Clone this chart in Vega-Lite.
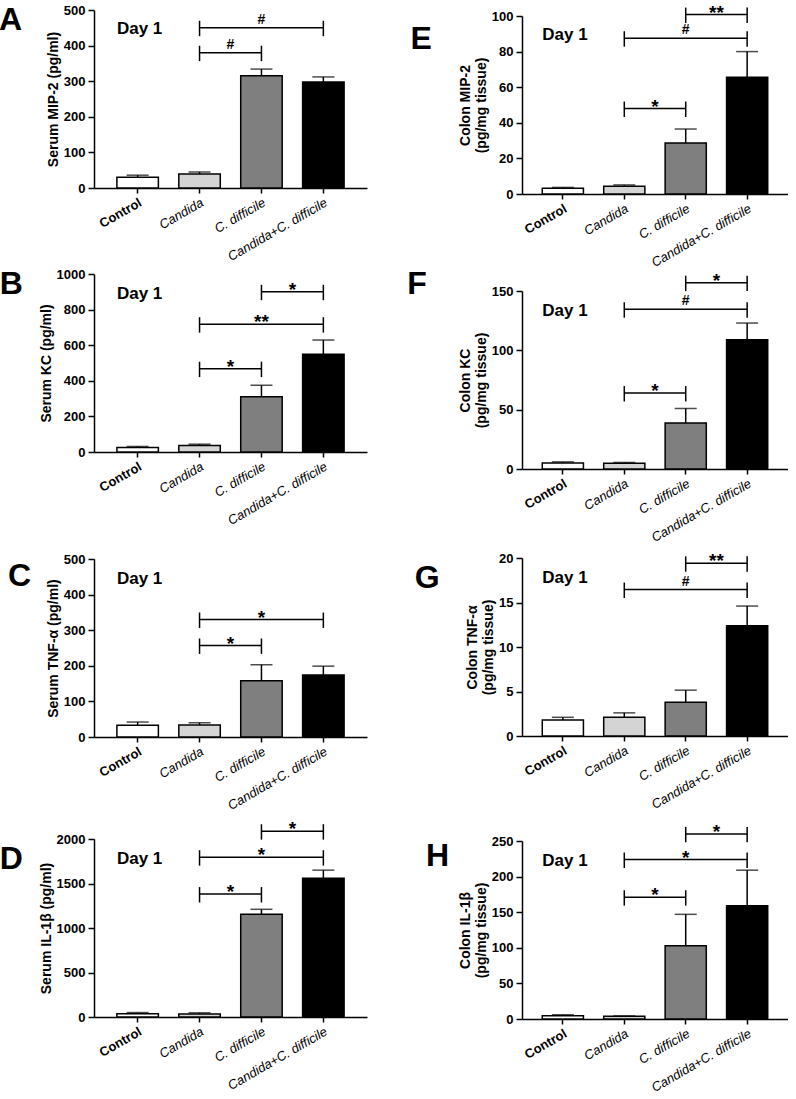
{
"$schema": "https://vega.github.io/schema/vega-lite/v6.json",
"padding": {"left": -1, "top": 3, "right": 0, "bottom": 0},
"columns": 2,
"align": "each",
"bounds": "flush",
"spacing": {"row": 80, "column": 155},
"config": {
 "font": "Liberation Sans",
 "view": {"stroke": null},
 "axis": {"grid": false, "domainColor": "#000000", "domainWidth": 1.5, "tickColor": "#000000", "tickWidth": 1.5, "labelColor": "#000000", "titleColor": "#000000", "labelFont": "Liberation Sans", "titleFont": "Liberation Sans"},
 "axisY": {"labelFontSize": 13, "labelFontWeight": "bold", "labelOverlap": false, "tickSize": 6, "labelPadding": 3, "titleFontSize": 14, "titleFontWeight": "bold", "titlePadding": 3, "titleLineHeight": 16},
 "axisX": {"labelFontSize": 13, "labelAngle": -30, "tickSize": 5, "labelPadding": 3},
 "bar": {"stroke": "#000000", "strokeWidth": 1.5},
 "rule": {"color": "#000000", "strokeWidth": 1.5},
 "tick": {"color": "#000000", "thickness": 1.5, "size": 22},
 "text": {"color": "#000000", "font": "Liberation Sans"},
 "point": {"color": "#000000", "strokeWidth": 1.5, "filled": false, "opacity": 1},
 "title": {"color": "#000000", "font": "Liberation Sans"}
},
"datasets": {
 "bars": [
  {"panel": "A", "group": "Control", "mean": 30, "upper": 36},
  {"panel": "A", "group": "Candida", "mean": 39, "upper": 45},
  {"panel": "A", "group": "C. difficile", "mean": 315, "upper": 334},
  {"panel": "A", "group": "Candida+C. difficile", "mean": 298, "upper": 312},
  {"panel": "B", "group": "Control", "mean": 25, "upper": 31},
  {"panel": "B", "group": "Candida", "mean": 36, "upper": 44},
  {"panel": "B", "group": "C. difficile", "mean": 310, "upper": 375},
  {"panel": "B", "group": "Candida+C. difficile", "mean": 549, "upper": 629},
  {"panel": "C", "group": "Control", "mean": 33, "upper": 42},
  {"panel": "C", "group": "Candida", "mean": 34, "upper": 40},
  {"panel": "C", "group": "C. difficile", "mean": 158, "upper": 203},
  {"panel": "C", "group": "Candida+C. difficile", "mean": 174, "upper": 199},
  {"panel": "D", "group": "Control", "mean": 37, "upper": 50},
  {"panel": "D", "group": "Candida", "mean": 35, "upper": 47},
  {"panel": "D", "group": "C. difficile", "mean": 1155, "upper": 1210},
  {"panel": "D", "group": "Candida+C. difficile", "mean": 1560, "upper": 1650},
  {"panel": "E", "group": "Control", "mean": 3.2, "upper": 3.7},
  {"panel": "E", "group": "Candida", "mean": 4.3, "upper": 5.1},
  {"panel": "E", "group": "C. difficile", "mean": 28.6, "upper": 36.5},
  {"panel": "E", "group": "Candida+C. difficile", "mean": 65.6, "upper": 80},
  {"panel": "F", "group": "Control", "mean": 5, "upper": 6},
  {"panel": "F", "group": "Candida", "mean": 4.8, "upper": 5.5},
  {"panel": "F", "group": "C. difficile", "mean": 38.7, "upper": 51},
  {"panel": "F", "group": "Candida+C. difficile", "mean": 109, "upper": 123},
  {"panel": "G", "group": "Control", "mean": 1.8, "upper": 2.1},
  {"panel": "G", "group": "Candida", "mean": 2.1, "upper": 2.6},
  {"panel": "G", "group": "C. difficile", "mean": 3.8, "upper": 5.15},
  {"panel": "G", "group": "Candida+C. difficile", "mean": 12.4, "upper": 14.6},
  {"panel": "H", "group": "Control", "mean": 4.7, "upper": 6},
  {"panel": "H", "group": "Candida", "mean": 3.8, "upper": 4.3},
  {"panel": "H", "group": "C. difficile", "mean": 103, "upper": 147},
  {"panel": "H", "group": "Candida+C. difficile", "mean": 159, "upper": 209}
 ],
 "sig": [
  {"panel": "A", "from": "Candida", "to": "C. difficile", "level": 380, "label": "#"},
  {"panel": "A", "from": "Candida", "to": "Candida+C. difficile", "level": 450, "label": "#"},
  {"panel": "B", "from": "C. difficile", "to": "Candida+C. difficile", "level": 900, "label": "*"},
  {"panel": "B", "from": "Candida", "to": "Candida+C. difficile", "level": 718, "label": "**"},
  {"panel": "B", "from": "Candida", "to": "C. difficile", "level": 468, "label": "*"},
  {"panel": "C", "from": "Candida", "to": "Candida+C. difficile", "level": 330, "label": "*"},
  {"panel": "C", "from": "Candida", "to": "C. difficile", "level": 257, "label": "*"},
  {"panel": "D", "from": "C. difficile", "to": "Candida+C. difficile", "level": 2087, "label": "*"},
  {"panel": "D", "from": "Candida", "to": "Candida+C. difficile", "level": 1795, "label": "*"},
  {"panel": "D", "from": "Candida", "to": "C. difficile", "level": 1381, "label": "*"},
  {"panel": "E", "from": "C. difficile", "to": "Candida+C. difficile", "level": 100.8, "label": "**"},
  {"panel": "E", "from": "Candida", "to": "Candida+C. difficile", "level": 87.5, "label": "#"},
  {"panel": "E", "from": "Candida", "to": "C. difficile", "level": 48, "label": "*"},
  {"panel": "F", "from": "C. difficile", "to": "Candida+C. difficile", "level": 157, "label": "*"},
  {"panel": "F", "from": "Candida", "to": "Candida+C. difficile", "level": 134.6, "label": "#"},
  {"panel": "F", "from": "Candida", "to": "C. difficile", "level": 64, "label": "*"},
  {"panel": "G", "from": "C. difficile", "to": "Candida+C. difficile", "level": 19.4, "label": "**"},
  {"panel": "G", "from": "Candida", "to": "Candida+C. difficile", "level": 16.45, "label": "#"},
  {"panel": "H", "from": "C. difficile", "to": "Candida+C. difficile", "level": 260, "label": "*"},
  {"panel": "H", "from": "Candida", "to": "Candida+C. difficile", "level": 224, "label": "*"},
  {"panel": "H", "from": "Candida", "to": "C. difficile", "level": 171, "label": "*"}
 ],
 "day": [{"label": "Day 1"}]
},
"concat": [
 {
  "width": 273, "height": 178,
  "title": {"text": "A", "orient": "left", "anchor": "end", "frame": "group", "angle": 0, "align": "right", "baseline": "top", "fontSize": 32, "fontWeight": "bold", "offset": 1, "dy": -5},
  "layer": [
   {"data": {"name": "bars"}, "transform": [{"filter": "datum.panel == 'A'"}], "mark": "bar",
    "encoding": {
     "x": {"field": "group", "type": "nominal", "scale": {"domain": ["Control", "Candida", "C. difficile", "Candida+C. difficile"], "paddingInner": 0.33, "paddingOuter": 0.37}, "axis": {"title": null, "labelFontWeight": {"condition": {"test": "datum.value == 'Control'", "value": "bold"}, "value": "normal"}, "labelFontStyle": {"condition": {"test": "datum.value == 'Control'", "value": "normal"}, "value": "italic"}}},
     "y": {"field": "mean", "type": "quantitative", "scale": {"domain": [0, 500], "range": [178, 0], "nice": false}, "axis": {"title": "Serum MIP-2 (pg/ml)", "format": "d", "labelOverlap": false, "tickCount": 10, "values": [0, 100, 200, 300, 400, 500]}},
     "fill": {"field": "group", "type": "nominal", "scale": {"domain": ["Control", "Candida", "C. difficile", "Candida+C. difficile"], "range": ["#ffffff", "#d4d4d4", "#7f7f7f", "#000000"]}, "legend": null}}},
   {"data": {"name": "bars"}, "transform": [{"filter": "datum.panel == 'A'"}], "mark": "rule",
    "encoding": {"x": {"field": "group", "type": "nominal"}, "y": {"field": "mean", "type": "quantitative"}, "y2": {"field": "upper"}}},
   {"data": {"name": "bars"}, "transform": [{"filter": "datum.panel == 'A'"}], "mark": "tick",
    "encoding": {"x": {"field": "group", "type": "nominal"}, "y": {"field": "upper", "type": "quantitative"}}},
   {"data": {"name": "sig"}, "transform": [{"filter": "datum.panel == 'A'"}], "mark": "rule",
    "encoding": {"x": {"field": "from", "type": "nominal"}, "x2": {"field": "to"}, "y": {"field": "level", "type": "quantitative"}}},
   {"data": {"name": "sig"}, "transform": [{"filter": "datum.panel == 'A'"}, {"fold": ["from", "to"], "as": ["end", "cat"]}], "mark": {"type": "point", "shape": "M0,-1L0,1.2", "size": 196},
    "encoding": {"x": {"field": "cat", "type": "nominal"}, "y": {"field": "level", "type": "quantitative"}}},
   {"data": {"name": "sig"}, "transform": [{"filter": "datum.panel == 'A' && datum.from == 'Candida' && datum.to == 'Candida+C. difficile'"}], "mark": {"type": "text", "fontWeight": "bold", "baseline": "alphabetic", "fontSize": {"expr": "datum.label == '#' ? 14 : 19"}, "dy": {"expr": "datum.label == '#' ? -4 : 4"}},
    "encoding": {"x": {"field": "from", "type": "nominal", "bandPosition": 1.993}, "y": {"field": "level", "type": "quantitative"}, "text": {"field": "label"}}},
   {"data": {"name": "sig"}, "transform": [{"filter": "datum.panel == 'A' && !(datum.from == 'Candida' && datum.to == 'Candida+C. difficile')"}], "mark": {"type": "text", "fontWeight": "bold", "baseline": "alphabetic", "fontSize": {"expr": "datum.label == '#' ? 14 : 19"}, "dy": {"expr": "datum.label == '#' ? -4 : 4"}},
    "encoding": {"x": {"field": "from", "type": "nominal", "bandPosition": 1.246}, "y": {"field": "level", "type": "quantitative"}, "text": {"field": "label"}}},
   {"data": {"name": "day"}, "mark": {"type": "text", "fontSize": 17, "fontWeight": "bold", "align": "left", "baseline": "middle"},
    "encoding": {"x": {"datum": "Control", "bandPosition": 0}, "y": {"datum": 447}, "text": {"field": "label"}}}
  ]
 },
 {
  "width": 266, "height": 184,
  "title": {"text": "E", "orient": "left", "anchor": "end", "frame": "group", "angle": 0, "align": "right", "baseline": "top", "fontSize": 32, "fontWeight": "bold", "offset": 5, "dy": 14},
  "layer": [
   {"data": {"name": "bars"}, "transform": [{"filter": "datum.panel == 'E'"}], "mark": "bar",
    "encoding": {
     "x": {"field": "group", "type": "nominal", "scale": {"domain": ["Control", "Candida", "C. difficile", "Candida+C. difficile"], "paddingInner": 0.33, "paddingOuter": 0.33}, "axis": {"title": null, "labelFontWeight": {"condition": {"test": "datum.value == 'Control'", "value": "bold"}, "value": "normal"}, "labelFontStyle": {"condition": {"test": "datum.value == 'Control'", "value": "normal"}, "value": "italic"}}},
     "y": {"field": "mean", "type": "quantitative", "scale": {"domain": [0, 100], "range": [184, 6], "nice": false}, "axis": {"title": ["Colon MIP-2", "(pg/mg tissue)"], "labelOverlap": false, "tickCount": 10, "values": [0, 20, 40, 60, 80, 100]}},
     "fill": {"field": "group", "type": "nominal", "scale": {"domain": ["Control", "Candida", "C. difficile", "Candida+C. difficile"], "range": ["#ffffff", "#d4d4d4", "#7f7f7f", "#000000"]}, "legend": null}}},
   {"data": {"name": "bars"}, "transform": [{"filter": "datum.panel == 'E'"}], "mark": "rule",
    "encoding": {"x": {"field": "group", "type": "nominal"}, "y": {"field": "mean", "type": "quantitative"}, "y2": {"field": "upper"}}},
   {"data": {"name": "bars"}, "transform": [{"filter": "datum.panel == 'E'"}], "mark": "tick",
    "encoding": {"x": {"field": "group", "type": "nominal"}, "y": {"field": "upper", "type": "quantitative"}}},
   {"data": {"name": "sig"}, "transform": [{"filter": "datum.panel == 'E'"}], "mark": "rule",
    "encoding": {"x": {"field": "from", "type": "nominal"}, "x2": {"field": "to"}, "y": {"field": "level", "type": "quantitative"}}},
   {"data": {"name": "sig"}, "transform": [{"filter": "datum.panel == 'E'"}, {"fold": ["from", "to"], "as": ["end", "cat"]}], "mark": {"type": "point", "shape": "M0,-1L0,1.2", "size": 196},
    "encoding": {"x": {"field": "cat", "type": "nominal"}, "y": {"field": "level", "type": "quantitative"}}},
   {"data": {"name": "sig"}, "transform": [{"filter": "datum.panel == 'E' && datum.from == 'Candida' && datum.to == 'Candida+C. difficile'"}], "mark": {"type": "text", "fontWeight": "bold", "baseline": "alphabetic", "fontSize": {"expr": "datum.label == '#' ? 14 : 19"}, "dy": {"expr": "datum.label == '#' ? -4 : 4"}},
    "encoding": {"x": {"field": "from", "type": "nominal", "bandPosition": 1.993}, "y": {"field": "level", "type": "quantitative"}, "text": {"field": "label"}}},
   {"data": {"name": "sig"}, "transform": [{"filter": "datum.panel == 'E' && !(datum.from == 'Candida' && datum.to == 'Candida+C. difficile')"}], "mark": {"type": "text", "fontWeight": "bold", "baseline": "alphabetic", "fontSize": {"expr": "datum.label == '#' ? 14 : 19"}, "dy": {"expr": "datum.label == '#' ? -4 : 4"}},
    "encoding": {"x": {"field": "from", "type": "nominal", "bandPosition": 1.246}, "y": {"field": "level", "type": "quantitative"}, "text": {"field": "label"}}},
   {"data": {"name": "day"}, "mark": {"type": "text", "fontSize": 17, "fontWeight": "bold", "align": "left", "baseline": "middle"},
    "encoding": {"x": {"datum": "Control", "bandPosition": 0}, "y": {"datum": 89.3}, "text": {"field": "label"}}}
  ]
 },
 {
  "width": 273, "height": 178,
  "title": {"text": "B", "orient": "left", "anchor": "end", "frame": "group", "angle": 0, "align": "right", "baseline": "top", "fontSize": 32, "fontWeight": "bold", "offset": -7, "dy": -5},
  "layer": [
   {"data": {"name": "bars"}, "transform": [{"filter": "datum.panel == 'B'"}], "mark": "bar",
    "encoding": {
     "x": {"field": "group", "type": "nominal", "scale": {"domain": ["Control", "Candida", "C. difficile", "Candida+C. difficile"], "paddingInner": 0.33, "paddingOuter": 0.37}, "axis": {"title": null, "labelFontWeight": {"condition": {"test": "datum.value == 'Control'", "value": "bold"}, "value": "normal"}, "labelFontStyle": {"condition": {"test": "datum.value == 'Control'", "value": "normal"}, "value": "italic"}}},
     "y": {"field": "mean", "type": "quantitative", "scale": {"domain": [0, 1000], "range": [178, 0], "nice": false}, "axis": {"title": "Serum KC (pg/ml)", "format": "d", "labelOverlap": false, "tickCount": 10, "values": [0, 200, 400, 600, 800, 1000]}},
     "fill": {"field": "group", "type": "nominal", "scale": {"domain": ["Control", "Candida", "C. difficile", "Candida+C. difficile"], "range": ["#ffffff", "#d4d4d4", "#7f7f7f", "#000000"]}, "legend": null}}},
   {"data": {"name": "bars"}, "transform": [{"filter": "datum.panel == 'B'"}], "mark": "rule",
    "encoding": {"x": {"field": "group", "type": "nominal"}, "y": {"field": "mean", "type": "quantitative"}, "y2": {"field": "upper"}}},
   {"data": {"name": "bars"}, "transform": [{"filter": "datum.panel == 'B'"}], "mark": "tick",
    "encoding": {"x": {"field": "group", "type": "nominal"}, "y": {"field": "upper", "type": "quantitative"}}},
   {"data": {"name": "sig"}, "transform": [{"filter": "datum.panel == 'B'"}], "mark": "rule",
    "encoding": {"x": {"field": "from", "type": "nominal"}, "x2": {"field": "to"}, "y": {"field": "level", "type": "quantitative"}}},
   {"data": {"name": "sig"}, "transform": [{"filter": "datum.panel == 'B'"}, {"fold": ["from", "to"], "as": ["end", "cat"]}], "mark": {"type": "point", "shape": "M0,-1L0,1.2", "size": 196},
    "encoding": {"x": {"field": "cat", "type": "nominal"}, "y": {"field": "level", "type": "quantitative"}}},
   {"data": {"name": "sig"}, "transform": [{"filter": "datum.panel == 'B' && datum.from == 'Candida' && datum.to == 'Candida+C. difficile'"}], "mark": {"type": "text", "fontWeight": "bold", "baseline": "alphabetic", "fontSize": {"expr": "datum.label == '#' ? 14 : 19"}, "dy": {"expr": "datum.label == '#' ? -4 : 4"}},
    "encoding": {"x": {"field": "from", "type": "nominal", "bandPosition": 1.993}, "y": {"field": "level", "type": "quantitative"}, "text": {"field": "label"}}},
   {"data": {"name": "sig"}, "transform": [{"filter": "datum.panel == 'B' && !(datum.from == 'Candida' && datum.to == 'Candida+C. difficile')"}], "mark": {"type": "text", "fontWeight": "bold", "baseline": "alphabetic", "fontSize": {"expr": "datum.label == '#' ? 14 : 19"}, "dy": {"expr": "datum.label == '#' ? -4 : 4"}},
    "encoding": {"x": {"field": "from", "type": "nominal", "bandPosition": 1.246}, "y": {"field": "level", "type": "quantitative"}, "text": {"field": "label"}}},
   {"data": {"name": "day"}, "mark": {"type": "text", "fontSize": 17, "fontWeight": "bold", "align": "left", "baseline": "middle"},
    "encoding": {"x": {"datum": "Control", "bandPosition": 0}, "y": {"datum": 887}, "text": {"field": "label"}}}
  ]
 },
 {
  "width": 266, "height": 195,
  "title": {"text": "F", "orient": "left", "anchor": "end", "frame": "group", "angle": 0, "align": "right", "baseline": "top", "fontSize": 32, "fontWeight": "bold", "offset": 12, "dy": -5},
  "layer": [
   {"data": {"name": "bars"}, "transform": [{"filter": "datum.panel == 'F'"}], "mark": "bar",
    "encoding": {
     "x": {"field": "group", "type": "nominal", "scale": {"domain": ["Control", "Candida", "C. difficile", "Candida+C. difficile"], "paddingInner": 0.33, "paddingOuter": 0.33}, "axis": {"title": null, "labelFontWeight": {"condition": {"test": "datum.value == 'Control'", "value": "bold"}, "value": "normal"}, "labelFontStyle": {"condition": {"test": "datum.value == 'Control'", "value": "normal"}, "value": "italic"}}},
     "y": {"field": "mean", "type": "quantitative", "scale": {"domain": [0, 150], "range": [195, 17], "nice": false}, "axis": {"title": ["Colon KC", "(pg/mg tissue)"], "labelOverlap": false, "tickCount": 10, "values": [0, 50, 100, 150]}},
     "fill": {"field": "group", "type": "nominal", "scale": {"domain": ["Control", "Candida", "C. difficile", "Candida+C. difficile"], "range": ["#ffffff", "#d4d4d4", "#7f7f7f", "#000000"]}, "legend": null}}},
   {"data": {"name": "bars"}, "transform": [{"filter": "datum.panel == 'F'"}], "mark": "rule",
    "encoding": {"x": {"field": "group", "type": "nominal"}, "y": {"field": "mean", "type": "quantitative"}, "y2": {"field": "upper"}}},
   {"data": {"name": "bars"}, "transform": [{"filter": "datum.panel == 'F'"}], "mark": "tick",
    "encoding": {"x": {"field": "group", "type": "nominal"}, "y": {"field": "upper", "type": "quantitative"}}},
   {"data": {"name": "sig"}, "transform": [{"filter": "datum.panel == 'F'"}], "mark": "rule",
    "encoding": {"x": {"field": "from", "type": "nominal"}, "x2": {"field": "to"}, "y": {"field": "level", "type": "quantitative"}}},
   {"data": {"name": "sig"}, "transform": [{"filter": "datum.panel == 'F'"}, {"fold": ["from", "to"], "as": ["end", "cat"]}], "mark": {"type": "point", "shape": "M0,-1L0,1.2", "size": 196},
    "encoding": {"x": {"field": "cat", "type": "nominal"}, "y": {"field": "level", "type": "quantitative"}}},
   {"data": {"name": "sig"}, "transform": [{"filter": "datum.panel == 'F' && datum.from == 'Candida' && datum.to == 'Candida+C. difficile'"}], "mark": {"type": "text", "fontWeight": "bold", "baseline": "alphabetic", "fontSize": {"expr": "datum.label == '#' ? 14 : 19"}, "dy": {"expr": "datum.label == '#' ? -4 : 4"}},
    "encoding": {"x": {"field": "from", "type": "nominal", "bandPosition": 1.993}, "y": {"field": "level", "type": "quantitative"}, "text": {"field": "label"}}},
   {"data": {"name": "sig"}, "transform": [{"filter": "datum.panel == 'F' && !(datum.from == 'Candida' && datum.to == 'Candida+C. difficile')"}], "mark": {"type": "text", "fontWeight": "bold", "baseline": "alphabetic", "fontSize": {"expr": "datum.label == '#' ? 14 : 19"}, "dy": {"expr": "datum.label == '#' ? -4 : 4"}},
    "encoding": {"x": {"field": "from", "type": "nominal", "bandPosition": 1.246}, "y": {"field": "level", "type": "quantitative"}, "text": {"field": "label"}}},
   {"data": {"name": "day"}, "mark": {"type": "text", "fontSize": 17, "fontWeight": "bold", "align": "left", "baseline": "middle"},
    "encoding": {"x": {"datum": "Control", "bandPosition": 0}, "y": {"datum": 133}, "text": {"field": "label"}}}
  ]
 },
 {
  "width": 273, "height": 188,
  "title": {"text": "C", "orient": "left", "anchor": "end", "frame": "group", "angle": 0, "align": "right", "baseline": "top", "fontSize": 32, "fontWeight": "bold", "offset": -8, "dy": 12},
  "layer": [
   {"data": {"name": "bars"}, "transform": [{"filter": "datum.panel == 'C'"}], "mark": "bar",
    "encoding": {
     "x": {"field": "group", "type": "nominal", "scale": {"domain": ["Control", "Candida", "C. difficile", "Candida+C. difficile"], "paddingInner": 0.33, "paddingOuter": 0.37}, "axis": {"title": null, "labelFontWeight": {"condition": {"test": "datum.value == 'Control'", "value": "bold"}, "value": "normal"}, "labelFontStyle": {"condition": {"test": "datum.value == 'Control'", "value": "normal"}, "value": "italic"}}},
     "y": {"field": "mean", "type": "quantitative", "scale": {"domain": [0, 500], "range": [188, 10], "nice": false}, "axis": {"title": "Serum TNF-α (pg/ml)", "format": "d", "labelOverlap": false, "tickCount": 10, "values": [0, 100, 200, 300, 400, 500]}},
     "fill": {"field": "group", "type": "nominal", "scale": {"domain": ["Control", "Candida", "C. difficile", "Candida+C. difficile"], "range": ["#ffffff", "#d4d4d4", "#7f7f7f", "#000000"]}, "legend": null}}},
   {"data": {"name": "bars"}, "transform": [{"filter": "datum.panel == 'C'"}], "mark": "rule",
    "encoding": {"x": {"field": "group", "type": "nominal"}, "y": {"field": "mean", "type": "quantitative"}, "y2": {"field": "upper"}}},
   {"data": {"name": "bars"}, "transform": [{"filter": "datum.panel == 'C'"}], "mark": "tick",
    "encoding": {"x": {"field": "group", "type": "nominal"}, "y": {"field": "upper", "type": "quantitative"}}},
   {"data": {"name": "sig"}, "transform": [{"filter": "datum.panel == 'C'"}], "mark": "rule",
    "encoding": {"x": {"field": "from", "type": "nominal"}, "x2": {"field": "to"}, "y": {"field": "level", "type": "quantitative"}}},
   {"data": {"name": "sig"}, "transform": [{"filter": "datum.panel == 'C'"}, {"fold": ["from", "to"], "as": ["end", "cat"]}], "mark": {"type": "point", "shape": "M0,-1L0,1.2", "size": 196},
    "encoding": {"x": {"field": "cat", "type": "nominal"}, "y": {"field": "level", "type": "quantitative"}}},
   {"data": {"name": "sig"}, "transform": [{"filter": "datum.panel == 'C' && datum.from == 'Candida' && datum.to == 'Candida+C. difficile'"}], "mark": {"type": "text", "fontWeight": "bold", "baseline": "alphabetic", "fontSize": {"expr": "datum.label == '#' ? 14 : 19"}, "dy": {"expr": "datum.label == '#' ? -4 : 4"}},
    "encoding": {"x": {"field": "from", "type": "nominal", "bandPosition": 1.993}, "y": {"field": "level", "type": "quantitative"}, "text": {"field": "label"}}},
   {"data": {"name": "sig"}, "transform": [{"filter": "datum.panel == 'C' && !(datum.from == 'Candida' && datum.to == 'Candida+C. difficile')"}], "mark": {"type": "text", "fontWeight": "bold", "baseline": "alphabetic", "fontSize": {"expr": "datum.label == '#' ? 14 : 19"}, "dy": {"expr": "datum.label == '#' ? -4 : 4"}},
    "encoding": {"x": {"field": "from", "type": "nominal", "bandPosition": 1.246}, "y": {"field": "level", "type": "quantitative"}, "text": {"field": "label"}}},
   {"data": {"name": "day"}, "mark": {"type": "text", "fontSize": 17, "fontWeight": "bold", "align": "left", "baseline": "middle"},
    "encoding": {"x": {"datum": "Control", "bandPosition": 0}, "y": {"datum": 445}, "text": {"field": "label"}}}
  ]
 },
 {
  "width": 266, "height": 187,
  "title": {"text": "G", "orient": "left", "anchor": "end", "frame": "group", "angle": 0, "align": "right", "baseline": "top", "fontSize": 32, "fontWeight": "bold", "offset": 1, "dy": 14},
  "layer": [
   {"data": {"name": "bars"}, "transform": [{"filter": "datum.panel == 'G'"}], "mark": "bar",
    "encoding": {
     "x": {"field": "group", "type": "nominal", "scale": {"domain": ["Control", "Candida", "C. difficile", "Candida+C. difficile"], "paddingInner": 0.33, "paddingOuter": 0.33}, "axis": {"title": null, "labelFontWeight": {"condition": {"test": "datum.value == 'Control'", "value": "bold"}, "value": "normal"}, "labelFontStyle": {"condition": {"test": "datum.value == 'Control'", "value": "normal"}, "value": "italic"}}},
     "y": {"field": "mean", "type": "quantitative", "scale": {"domain": [0, 20], "range": [187, 9], "nice": false}, "axis": {"title": ["Colon TNF-α", "(pg/mg tissue)"], "labelOverlap": false, "tickCount": 10, "values": [0, 5, 10, 15, 20]}},
     "fill": {"field": "group", "type": "nominal", "scale": {"domain": ["Control", "Candida", "C. difficile", "Candida+C. difficile"], "range": ["#ffffff", "#d4d4d4", "#7f7f7f", "#000000"]}, "legend": null}}},
   {"data": {"name": "bars"}, "transform": [{"filter": "datum.panel == 'G'"}], "mark": "rule",
    "encoding": {"x": {"field": "group", "type": "nominal"}, "y": {"field": "mean", "type": "quantitative"}, "y2": {"field": "upper"}}},
   {"data": {"name": "bars"}, "transform": [{"filter": "datum.panel == 'G'"}], "mark": "tick",
    "encoding": {"x": {"field": "group", "type": "nominal"}, "y": {"field": "upper", "type": "quantitative"}}},
   {"data": {"name": "sig"}, "transform": [{"filter": "datum.panel == 'G'"}], "mark": "rule",
    "encoding": {"x": {"field": "from", "type": "nominal"}, "x2": {"field": "to"}, "y": {"field": "level", "type": "quantitative"}}},
   {"data": {"name": "sig"}, "transform": [{"filter": "datum.panel == 'G'"}, {"fold": ["from", "to"], "as": ["end", "cat"]}], "mark": {"type": "point", "shape": "M0,-1L0,1.2", "size": 196},
    "encoding": {"x": {"field": "cat", "type": "nominal"}, "y": {"field": "level", "type": "quantitative"}}},
   {"data": {"name": "sig"}, "transform": [{"filter": "datum.panel == 'G' && datum.from == 'Candida' && datum.to == 'Candida+C. difficile'"}], "mark": {"type": "text", "fontWeight": "bold", "baseline": "alphabetic", "fontSize": {"expr": "datum.label == '#' ? 14 : 19"}, "dy": {"expr": "datum.label == '#' ? -4 : 4"}},
    "encoding": {"x": {"field": "from", "type": "nominal", "bandPosition": 1.993}, "y": {"field": "level", "type": "quantitative"}, "text": {"field": "label"}}},
   {"data": {"name": "sig"}, "transform": [{"filter": "datum.panel == 'G' && !(datum.from == 'Candida' && datum.to == 'Candida+C. difficile')"}], "mark": {"type": "text", "fontWeight": "bold", "baseline": "alphabetic", "fontSize": {"expr": "datum.label == '#' ? 14 : 19"}, "dy": {"expr": "datum.label == '#' ? -4 : 4"}},
    "encoding": {"x": {"field": "from", "type": "nominal", "bandPosition": 1.246}, "y": {"field": "level", "type": "quantitative"}, "text": {"field": "label"}}},
   {"data": {"name": "day"}, "mark": {"type": "text", "fontSize": 17, "fontWeight": "bold", "align": "left", "baseline": "middle"},
    "encoding": {"x": {"datum": "Control", "bandPosition": 0}, "y": {"datum": 17.75}, "text": {"field": "label"}}}
  ]
 },
 {
  "width": 273, "height": 200,
  "title": {"text": "D", "orient": "left", "anchor": "end", "frame": "group", "angle": 0, "align": "right", "baseline": "top", "fontSize": 32, "fontWeight": "bold", "offset": -7, "dy": 27},
  "layer": [
   {"data": {"name": "bars"}, "transform": [{"filter": "datum.panel == 'D'"}], "mark": "bar",
    "encoding": {
     "x": {"field": "group", "type": "nominal", "scale": {"domain": ["Control", "Candida", "C. difficile", "Candida+C. difficile"], "paddingInner": 0.33, "paddingOuter": 0.37}, "axis": {"title": null, "labelFontWeight": {"condition": {"test": "datum.value == 'Control'", "value": "bold"}, "value": "normal"}, "labelFontStyle": {"condition": {"test": "datum.value == 'Control'", "value": "normal"}, "value": "italic"}}},
     "y": {"field": "mean", "type": "quantitative", "scale": {"domain": [0, 2000], "range": [200, 22], "nice": false}, "axis": {"title": "Serum IL-1β (pg/ml)", "format": "d", "labelOverlap": false, "tickCount": 10, "values": [0, 500, 1000, 1500, 2000]}},
     "fill": {"field": "group", "type": "nominal", "scale": {"domain": ["Control", "Candida", "C. difficile", "Candida+C. difficile"], "range": ["#ffffff", "#d4d4d4", "#7f7f7f", "#000000"]}, "legend": null}}},
   {"data": {"name": "bars"}, "transform": [{"filter": "datum.panel == 'D'"}], "mark": "rule",
    "encoding": {"x": {"field": "group", "type": "nominal"}, "y": {"field": "mean", "type": "quantitative"}, "y2": {"field": "upper"}}},
   {"data": {"name": "bars"}, "transform": [{"filter": "datum.panel == 'D'"}], "mark": "tick",
    "encoding": {"x": {"field": "group", "type": "nominal"}, "y": {"field": "upper", "type": "quantitative"}}},
   {"data": {"name": "sig"}, "transform": [{"filter": "datum.panel == 'D'"}], "mark": "rule",
    "encoding": {"x": {"field": "from", "type": "nominal"}, "x2": {"field": "to"}, "y": {"field": "level", "type": "quantitative"}}},
   {"data": {"name": "sig"}, "transform": [{"filter": "datum.panel == 'D'"}, {"fold": ["from", "to"], "as": ["end", "cat"]}], "mark": {"type": "point", "shape": "M0,-1L0,1.2", "size": 196},
    "encoding": {"x": {"field": "cat", "type": "nominal"}, "y": {"field": "level", "type": "quantitative"}}},
   {"data": {"name": "sig"}, "transform": [{"filter": "datum.panel == 'D' && datum.from == 'Candida' && datum.to == 'Candida+C. difficile'"}], "mark": {"type": "text", "fontWeight": "bold", "baseline": "alphabetic", "fontSize": {"expr": "datum.label == '#' ? 14 : 19"}, "dy": {"expr": "datum.label == '#' ? -4 : 4"}},
    "encoding": {"x": {"field": "from", "type": "nominal", "bandPosition": 1.993}, "y": {"field": "level", "type": "quantitative"}, "text": {"field": "label"}}},
   {"data": {"name": "sig"}, "transform": [{"filter": "datum.panel == 'D' && !(datum.from == 'Candida' && datum.to == 'Candida+C. difficile')"}], "mark": {"type": "text", "fontWeight": "bold", "baseline": "alphabetic", "fontSize": {"expr": "datum.label == '#' ? 14 : 19"}, "dy": {"expr": "datum.label == '#' ? -4 : 4"}},
    "encoding": {"x": {"field": "from", "type": "nominal", "bandPosition": 1.246}, "y": {"field": "level", "type": "quantitative"}, "text": {"field": "label"}}},
   {"data": {"name": "day"}, "mark": {"type": "text", "fontSize": 17, "fontWeight": "bold", "align": "left", "baseline": "middle"},
    "encoding": {"x": {"datum": "Control", "bandPosition": 0}, "y": {"datum": 1777}, "text": {"field": "label"}}}
  ]
 },
 {
  "width": 266, "height": 202,
  "title": {"text": "H", "orient": "left", "anchor": "end", "frame": "group", "angle": 0, "align": "right", "baseline": "top", "fontSize": 32, "fontWeight": "bold", "offset": -14, "dy": 24},
  "layer": [
   {"data": {"name": "bars"}, "transform": [{"filter": "datum.panel == 'H'"}], "mark": "bar",
    "encoding": {
     "x": {"field": "group", "type": "nominal", "scale": {"domain": ["Control", "Candida", "C. difficile", "Candida+C. difficile"], "paddingInner": 0.33, "paddingOuter": 0.33}, "axis": {"title": null, "labelFontWeight": {"condition": {"test": "datum.value == 'Control'", "value": "bold"}, "value": "normal"}, "labelFontStyle": {"condition": {"test": "datum.value == 'Control'", "value": "normal"}, "value": "italic"}}},
     "y": {"field": "mean", "type": "quantitative", "scale": {"domain": [0, 250], "range": [202, 24], "nice": false}, "axis": {"title": ["Colon IL-1β", "(pg/mg tissue)"], "labelOverlap": false, "tickCount": 10, "values": [0, 50, 100, 150, 200, 250]}},
     "fill": {"field": "group", "type": "nominal", "scale": {"domain": ["Control", "Candida", "C. difficile", "Candida+C. difficile"], "range": ["#ffffff", "#d4d4d4", "#7f7f7f", "#000000"]}, "legend": null}}},
   {"data": {"name": "bars"}, "transform": [{"filter": "datum.panel == 'H'"}], "mark": "rule",
    "encoding": {"x": {"field": "group", "type": "nominal"}, "y": {"field": "mean", "type": "quantitative"}, "y2": {"field": "upper"}}},
   {"data": {"name": "bars"}, "transform": [{"filter": "datum.panel == 'H'"}], "mark": "tick",
    "encoding": {"x": {"field": "group", "type": "nominal"}, "y": {"field": "upper", "type": "quantitative"}}},
   {"data": {"name": "sig"}, "transform": [{"filter": "datum.panel == 'H'"}], "mark": "rule",
    "encoding": {"x": {"field": "from", "type": "nominal"}, "x2": {"field": "to"}, "y": {"field": "level", "type": "quantitative"}}},
   {"data": {"name": "sig"}, "transform": [{"filter": "datum.panel == 'H'"}, {"fold": ["from", "to"], "as": ["end", "cat"]}], "mark": {"type": "point", "shape": "M0,-1L0,1.2", "size": 196},
    "encoding": {"x": {"field": "cat", "type": "nominal"}, "y": {"field": "level", "type": "quantitative"}}},
   {"data": {"name": "sig"}, "transform": [{"filter": "datum.panel == 'H' && datum.from == 'Candida' && datum.to == 'Candida+C. difficile'"}], "mark": {"type": "text", "fontWeight": "bold", "baseline": "alphabetic", "fontSize": {"expr": "datum.label == '#' ? 14 : 19"}, "dy": {"expr": "datum.label == '#' ? -4 : 4"}},
    "encoding": {"x": {"field": "from", "type": "nominal", "bandPosition": 1.993}, "y": {"field": "level", "type": "quantitative"}, "text": {"field": "label"}}},
   {"data": {"name": "sig"}, "transform": [{"filter": "datum.panel == 'H' && !(datum.from == 'Candida' && datum.to == 'Candida+C. difficile')"}], "mark": {"type": "text", "fontWeight": "bold", "baseline": "alphabetic", "fontSize": {"expr": "datum.label == '#' ? 14 : 19"}, "dy": {"expr": "datum.label == '#' ? -4 : 4"}},
    "encoding": {"x": {"field": "from", "type": "nominal", "bandPosition": 1.246}, "y": {"field": "level", "type": "quantitative"}, "text": {"field": "label"}}},
   {"data": {"name": "day"}, "mark": {"type": "text", "fontSize": 17, "fontWeight": "bold", "align": "left", "baseline": "middle"},
    "encoding": {"x": {"datum": "Control", "bandPosition": 0}, "y": {"datum": 221.6}, "text": {"field": "label"}}}
  ]
 }
]
}
